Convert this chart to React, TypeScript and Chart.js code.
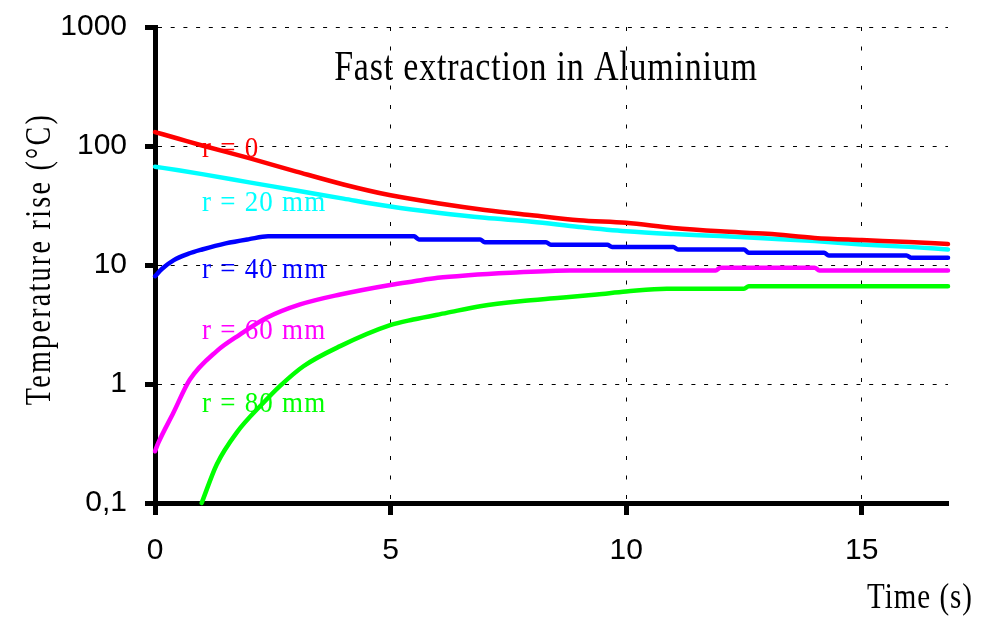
import { useEffect, useRef } from 'react';
import { Chart, registerables } from 'chart.js';

Chart.register(...registerables);

// ---- data ----
const X_TICKS = [0, 5, 10, 15];
const Y_TICKS = [0.1, 1, 10, 100, 1000];
const Y_TICK_LABELS = ['0,1', '1', '10', '100', '1000'];
const X_MIN = 0;
const X_MAX = 16.83;
const Y_MIN = 0.1;
const Y_MAX = 1000;

const TITLE = 'Fast extraction in Aluminium';
const X_TITLE = 'Time (s)';
const Y_TITLE = 'Temperature rise (°C)';

const SERIES_NAMES = ['r = 0', 'r = 20 mm', 'r = 40 mm', 'r = 60 mm', 'r = 80 mm'];
const SERIES_COLORS = ['#ff0000', '#00ffff', '#0000ff', '#ff00ff', '#00ff00'];

const T_R0 = [0, 0.5, 1, 2, 3, 4, 5, 6, 7, 8, 9, 10, 11, 12, 13, 14, 15, 16, 16.83];
const V_R0 = [131, 115, 101, 79, 61, 47.5, 38.5, 33, 29, 26.2, 23.8, 22.6, 20.5, 19.2, 18.3, 16.9, 16.2, 15.6, 15.0];

const T_R20 = [0, 0.5, 1, 2, 3, 4, 5, 6, 7, 8, 9, 10, 11, 12, 13, 14, 15, 16, 16.83];
const V_R20 = [67, 62.5, 58, 49.5, 42.3, 36.1, 31, 27.5, 24.9, 23.1, 20.9, 19.2, 18.2, 17.5, 16.7, 15.9, 14.9, 14.2, 13.5];

const T_R40 = [0, 0.15, 0.4, 0.7, 1, 1.5, 2, 2.4, 5.5, 5.6, 6.9, 7.0, 8.3, 8.4, 9.6, 9.7, 11.0, 11.1, 12.5, 12.6, 14.2, 14.3, 15.95, 16.05, 16.83];
const V_R40 = [8.05, 9.3, 11.0, 12.4, 13.5, 15.2, 16.5, 17.4, 17.4, 16.4, 16.4, 15.5, 15.5, 14.8, 14.8, 14.2, 14.2, 13.5, 13.5, 12.7, 12.7, 12.0, 12.0, 11.5, 11.5];

const T_R60 = [0, 0.07, 0.39, 0.74, 1.31, 1.8, 2.37, 3.08, 3.93, 4.99, 5.5, 6.0, 6.65, 7.54, 8.8, 11.9, 12.0, 14.0, 14.1, 16.83];
const V_R60 = [0.272, 0.32, 0.573, 1.09, 1.89, 2.6, 3.6, 4.66, 5.65, 6.8, 7.3, 7.8, 8.2, 8.6, 9.0, 9.0, 9.5, 9.5, 9.0, 9.0];

const T_R80 = [0.99, 1.31, 1.73, 2.3, 2.65, 3.15, 3.93, 4.99, 5.48, 6.19, 6.9, 7.75, 8.6, 9.38, 10.0, 10.86, 12.5, 12.6, 16.83];
const V_R80 = [0.1, 0.211, 0.389, 0.695, 0.96, 1.41, 2.08, 3.12, 3.48, 3.96, 4.5, 4.96, 5.3, 5.65, 5.98, 6.33, 6.33, 6.64, 6.64];

const SERIES_T = [T_R0, T_R20, T_R40, T_R60, T_R80];
const SERIES_V = [V_R0, V_R20, V_R40, V_R60, V_R80];

// label anchors (time, value) for in-plot curve labels
const LABEL_ANCHOR_T = 1.0;
const LABEL_ANCHOR_V = [81.6, 28.2, 7.85, 2.37, 0.587];

const SERIF = '"Liberation Serif", "Times New Roman", serif';
const SANS = '"Liberation Sans", Arial, sans-serif';

type TxtOpts = { font: string; color: string; align?: CanvasTextAlign; sy?: number; rot?: number; ls?: number };

function drawText(ctx: CanvasRenderingContext2D, text: string, x: number, y: number, o: TxtOpts) {
  ctx.save();
  ctx.translate(x, y);
  if (o.rot) ctx.rotate(o.rot);
  ctx.scale(1, o.sy ?? 1);
  ctx.font = o.font;
  ctx.fillStyle = o.color;
  ctx.textAlign = o.align ?? 'left';
  ctx.textBaseline = 'alphabetic';
  (ctx as any).letterSpacing = (o.ls ?? 0) + 'px';
  ctx.fillText(text, 0, 0);
  ctx.restore();
}

const textPlugin = {
  id: 'textPlugin',
  afterDatasetsDraw(chart: any) {
    const ctx: CanvasRenderingContext2D = chart.ctx;
    const xs = chart.scales.x;
    const ys = chart.scales.y;
    drawText(ctx, TITLE, 546, 80, { font: `34px ${SERIF}`, color: '#000', align: 'center', sy: 1.22, ls: 0.8 });
    drawText(ctx, X_TITLE, 973, 608, { font: `29px ${SERIF}`, color: '#000', align: 'right', sy: 1.2, ls: 1 });
    drawText(ctx, Y_TITLE, 50, 259, { font: `28px ${SERIF}`, color: '#000', align: 'center', sy: 1.3, ls: 2.3, rot: -Math.PI / 2 });
    SERIES_NAMES.forEach((name, i) => {
      const px = xs.getPixelForValue(LABEL_ANCHOR_T);
      const py = ys.getPixelForValue(LABEL_ANCHOR_V[i]);
      drawText(ctx, name, px, py, { font: `27px ${SERIF}`, color: SERIES_COLORS[i], align: 'left', sy: 1.1, ls: 1.2 });
    });
  },
};

export default function App() {
  const ref = useRef<HTMLCanvasElement>(null);
  useEffect(() => {
    const datasets = SERIES_NAMES.map((name, i) => ({
      label: name,
      data: SERIES_T[i].map((t, j) => ({ x: t, y: SERIES_V[i][j] })),
      borderColor: SERIES_COLORS[i],
      backgroundColor: SERIES_COLORS[i],
      borderWidth: 4.5,
      pointRadius: 0,
      tension: 0.2,
      cubicInterpolationMode: 'monotone' as any,
      fill: false,
      clip: false as any,
      borderCapStyle: 'round' as CanvasLineCap,
      borderJoinStyle: 'round' as CanvasLineJoin,
    }));
    const chart = new Chart(ref.current!, {
      type: 'line',
      data: { datasets },
      options: {
        animation: false,
        responsive: false,
        devicePixelRatio: 1,
        layout: { padding: { left: 0, top: 27, right: 50, bottom: 0 } },
        plugins: { legend: { display: false }, tooltip: { enabled: false }, title: { display: false } },
        scales: {
          x: {
            type: 'linear',
            min: X_MIN,
            max: X_MAX,
            afterBuildTicks: (s: any) => { s.ticks = X_TICKS.map((v) => ({ value: v })); },
            afterFit: (s: any) => { s.height = 115; s.paddingLeft = 0; s.paddingRight = 0; },
            grid: { color: '#000', lineWidth: 1, drawTicks: true, tickLength: 12, tickWidth: 5, tickColor: '#000' },
            border: { display: true, color: '#000', width: 5, dash: [4, 15.5] },
            ticks: {
              color: '#000',
              font: { family: SANS, size: 30 },
              padding: 18,
              maxRotation: 0,
              autoSkip: false,
              callback: (v: any) => String(v),
            },
          },
          y: {
            type: 'logarithmic',
            min: Y_MIN,
            max: Y_MAX,
            afterBuildTicks: (s: any) => { s.ticks = Y_TICKS.map((v) => ({ value: v })); },
            afterFit: (s: any) => { s.width = 155; s.paddingTop = 0; s.paddingBottom = 0; },
            grid: { color: '#000', lineWidth: 1, drawTicks: true, tickLength: 10, tickWidth: 5, tickColor: '#000' },
            border: { display: true, color: '#000', width: 5, dash: [4, 8.7] },
            ticks: {
              color: '#000',
              font: { family: SANS, size: 30 },
              padding: 18,
              autoSkip: false,
              callback: (v: any) => {
                const k = Y_TICKS.findIndex((t) => Math.abs(t - Number(v)) < 1e-9 * Math.max(1, t));
                return k >= 0 ? Y_TICK_LABELS[k] : '';
              },
            },
          },
        },
      } as any,
      plugins: [textPlugin],
    });
    return () => chart.destroy();
  }, []);
  return (
    <div style={{ position: 'fixed', left: 0, top: 0, width: 998, height: 618, background: '#fff' }}>
      <canvas ref={ref} width={998} height={618} style={{ display: 'block', width: 998, height: 618 }} />
    </div>
  );
}
